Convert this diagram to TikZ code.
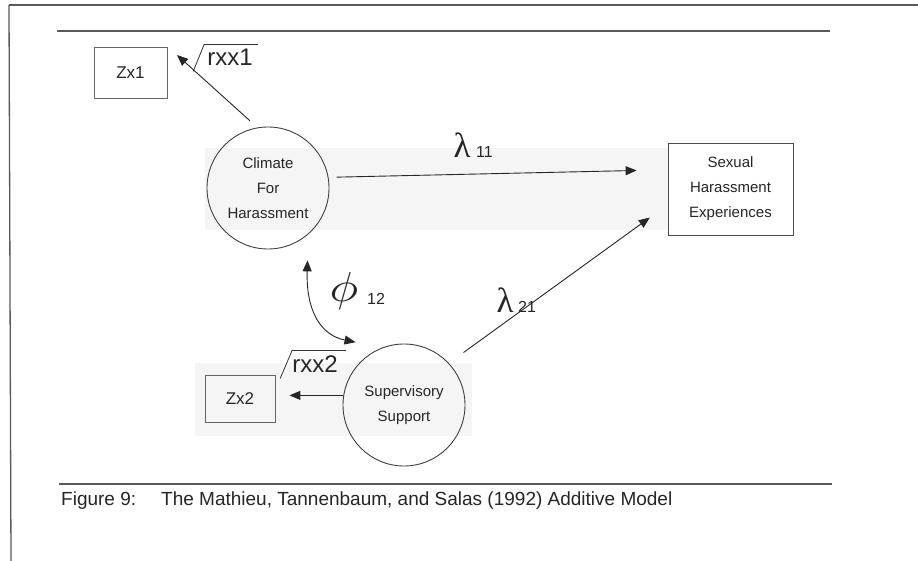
\documentclass[tikz,border=0pt]{standalone}
\usepackage{fontspec}
\setmainfont{Liberation Sans}
\newfontfamily\greekserif{Liberation Serif}
\usepackage{graphicx}
\usetikzlibrary{arrows.meta,calc}

\begin{document}
\begin{tikzpicture}[x=1pt,y=-1pt,
  tip/.tip={Triangle[length=11pt,width=9pt]},
  arr/.style={draw=black!85, line width=0.9pt, -tip},
  arrboth/.style={draw=black!85, line width=0.9pt, tip-tip},
  latent/.style={circle, draw=black!75, line width=0.9pt, minimum size=122pt,
    inner sep=0pt, align=center, font=\fontsize{15}{25}\selectfont, text=black!85},
  indicator/.style={rectangle, draw=black!60, line width=0.8pt, inner sep=0pt,
    font=\fontsize{17}{20}\selectfont, text=black!85},
  outcome/.style={rectangle, draw=black!70, line width=0.8pt, inner sep=0pt,
    minimum width=125pt, minimum height=92pt, align=center,
    font=\fontsize{15}{25}\selectfont, text=black!85},
  rulebar/.style={draw=black!65, line width=1.3pt},
  radical/.style={draw=black!80, line width=0.8pt},
  rlabel/.style={font=\fontsize{24}{24}\selectfont, text=black!85, inner sep=0pt},
  lam/.style={font=\greekserif\fontsize{35}{35}\selectfont, text=black!85, inner sep=0pt},
  sub/.style={font=\fontsize{16}{16}\selectfont, text=black!85, inner sep=0pt},
]
\useasboundingbox (0,0) rectangle (918,561);
\fill[white] (0,0) rectangle (918,561);

% faint shaded bands behind the two rows
\fill[black!4] (205,148) rectangle (668,230);
\fill[black!4] (195,363) rectangle (472,436);

% page frame and figure rules
\draw[rulebar] (9,5) -- (918,5);
\draw[rulebar] (9,5) -- (11,561);
\draw[rulebar] (57,31) -- (830,31);
\draw[rulebar] (59,484) -- (832,484);

% nodes
\node[indicator, minimum width=73pt, minimum height=51pt] (zx1) at (130.5,72.5) {Zx1};
\node[indicator, minimum width=70pt, minimum height=47pt] (zx2) at (240,398.5) {Zx2};
\node[latent] (climate) at (268,188) {Climate\\For\\Harassment};
\node[latent] (support) at (404,405) {Supervisory\\Support};
\node[outcome] (sexual) at (730.5,189) {Sexual\\Harassment\\Experiences};

% reliability labels with radical signs
\node[rlabel] (r1) at (230,57) {rxx1};
\draw[radical] ($(r1.south west)+(-14,6)$) -- ($(r1.north west)+(-3,-4)$) -- ($(r1.north east)+(5,-4)$);
\node[rlabel] (r2) at (315,364) {rxx2};
\draw[radical] ($(r2.south west)+(-12,6)$) -- ($(r2.north west)+(0,-5)$) -- ($(r2.north east)+(8,-5)$);

% paths
\coordinate (t1) at (177,55);
\draw[arr, shorten <=10pt] (climate.100) -- (t1);
\draw[arr, shorten <=8pt, shorten >=31pt] (climate.10) -- (sexual.163);
\draw[arr, shorten <=18pt, shorten >=22pt] (support.43) -- (sexual.194);
\draw[arr, shorten >=14pt] (support.171) -- (support.171 -| zx2.east);
\draw[arrboth, shorten <=26pt, shorten >=27pt] (climate.-49)
  .. controls (306,310) and (320,335) .. (support.111);

% path coefficients
\node[lam] (l11) at (462,145) {λ};
\node[sub, anchor=west] (s11) at (476,152) {11};
\node[lam] (l21) at (505,300) {λ};
\node[sub, anchor=west] (s21) at (518,307) {21};
\node[inner sep=0pt, text=black!85] (phi) at (344,291) {\scalebox{4.8}[4.2]{$\phi$}};
\node[sub, anchor=west] (s12) at (367,299) {12};

% caption
\node[anchor=west, inner sep=0pt, font=\fontsize{19}{19}\selectfont, text=black!85] (cap)
  at (61,501) {Figure 9:\hspace{25pt}The Mathieu, Tannenbaum, and Salas (1992) Additive Model};
\end{tikzpicture}
\end{document}
